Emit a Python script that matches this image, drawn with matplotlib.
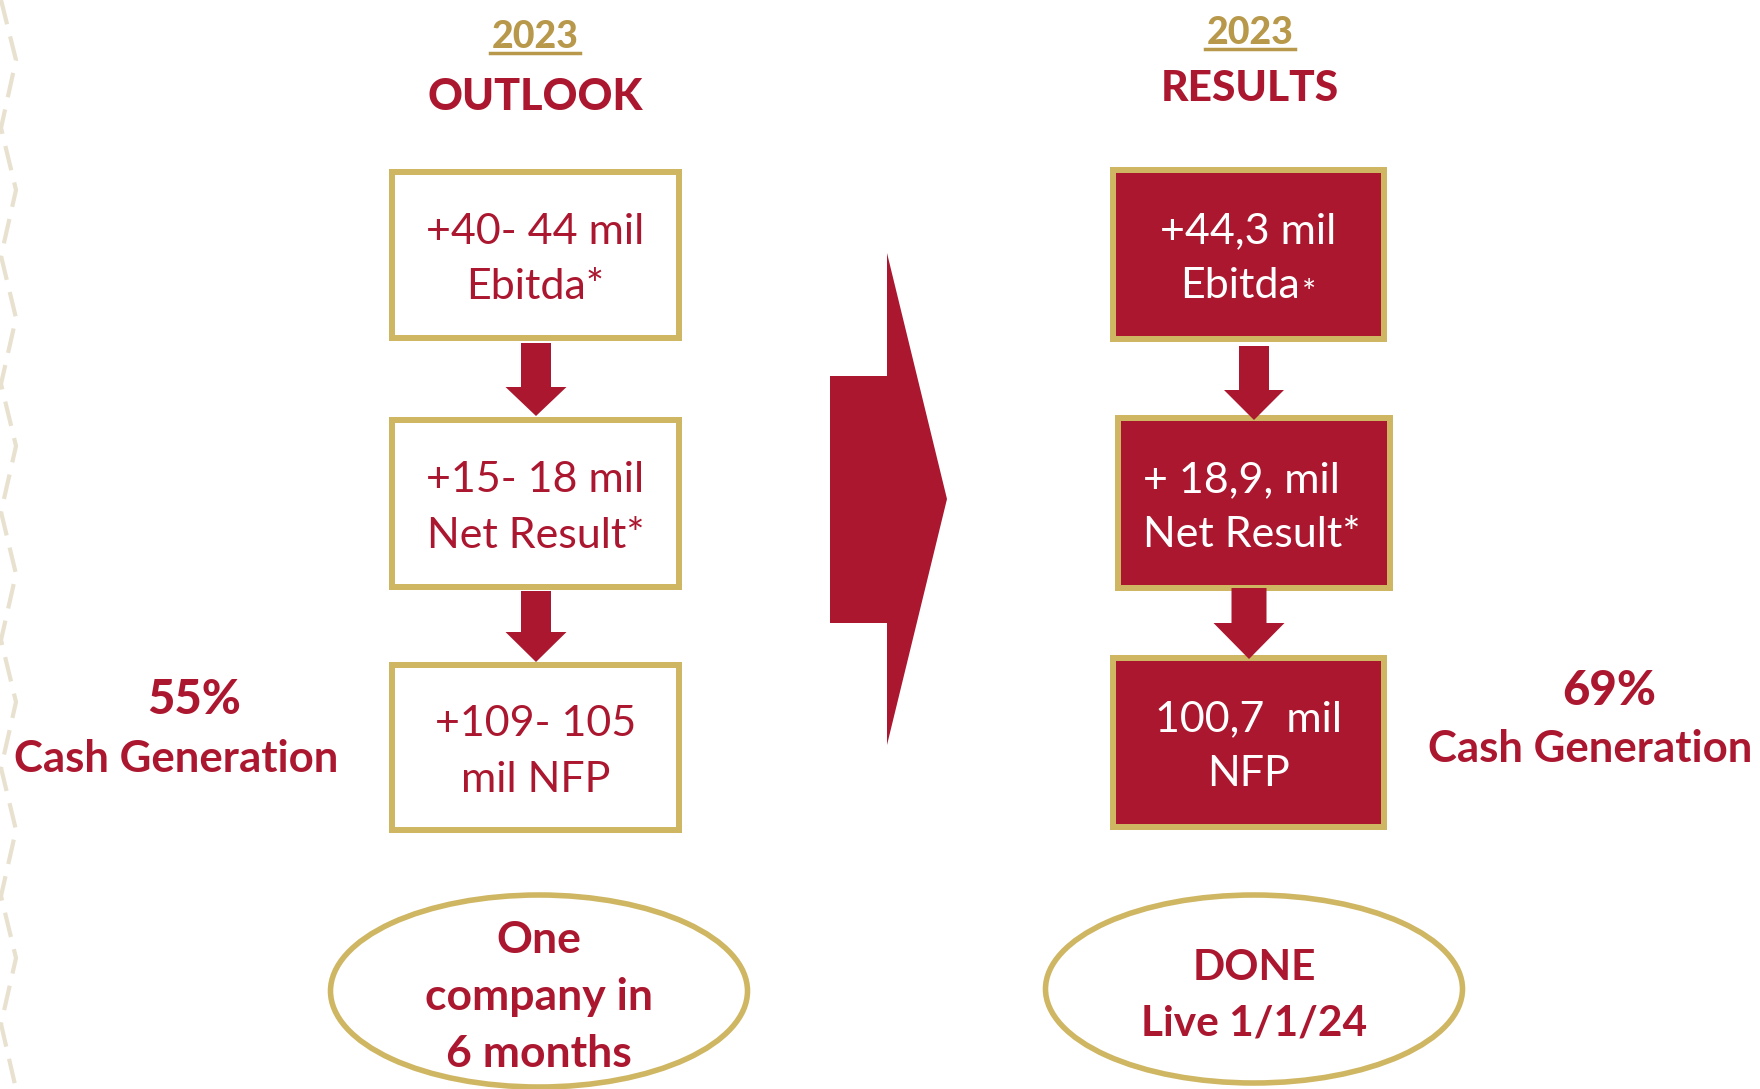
import matplotlib
matplotlib.use("Agg")
import matplotlib.pyplot as plt
from matplotlib.patches import Rectangle, Ellipse, Polygon
import numpy as np

# ---------------- data ----------------
header_year = ["2023", "2023"]
header_title = ["OUTLOOK", "RESULTS"]
outlook_lines = [["+40- 44 mil", "Ebitda*"],
                 ["+15- 18 mil", "Net Result*"],
                 ["+109- 105", "mil NFP"]]
results_lines = [["+44,3 mil", "Ebitda"],
                 ["+ 18,9, mil", "Net Result*"],
                 ["100,7  mil", "NFP"]]
cash_pct = ["55%", "69%"]
cash_label = ["Cash Generation", "Cash Generation"]
oval_lines = [["One", "company in", "6 months"],
              ["DONE", "Live 1/1/24"]]

# ---------------- style ----------------
RED = "#AC1730"
GOLD = "#CFB663"
GOLD_TXT = "#B8984A"
FONT = "Lato"

W, H = 1760, 1089
fig = plt.figure(figsize=(W / 100, H / 100), dpi=100)
ax = fig.add_axes([0, 0, 1, 1])
ax.set_xlim(0, W)
ax.set_ylim(H, 0)
ax.axis("off")

# left decorative zigzag
zy = [0, 60, 128, 190, 256, 318, 384, 446, 512, 574, 640, 702, 768, 830, 896, 958, 1024, 1089]
zx = [1 if i % 2 == 0 else 16 for i in range(len(zy))]
ax.plot(zx, zy, color="#E8E1CF", lw=3, dashes=(6, 3), solid_capstyle="round", zorder=0)

# headers
hdr = [(535, 34, 94, 31), (1250, 30, 85, 30.5)]
for (cx, yy, ty, fs), yr, tt in zip(hdr, header_year, header_title):
    ax.text(cx, yy + 14, yr, ha="center", va="baseline", fontsize=27,
            fontfamily=FONT, fontweight="black", color=GOLD_TXT)
    ax.plot([cx - 45, cx + 45], [yy + 19, yy + 19], color=GOLD_TXT, lw=2.5)
    ax.text(cx, ty + 16, tt, ha="center", va="baseline", fontsize=fs,
            fontfamily=FONT, fontweight="black", color=RED)

# boxes: (x0, y0, x1, y1)
left_boxes = [(389, 169, 682, 341), (389, 417, 682, 590), (389, 662, 682, 833)]
right_boxes = [(1110, 167, 1387, 342), (1115, 415, 1393, 591), (1110, 655, 1387, 830)]

def draw_box(b, filled):
    x0, y0, x1, y1 = b
    lw = 6
    ax.add_patch(Rectangle((x0 + lw / 2, y0 + lw / 2), x1 - x0 - lw, y1 - y0 - lw,
                           facecolor=RED if filled else "white", edgecolor=GOLD,
                           linewidth=lw * 0.72, joinstyle="miter", zorder=2))

def draw_down_arrow(cx, ytop, ybase, ytip, shaft_w, head_w):
    pts = [(cx - shaft_w / 2, ytop), (cx + shaft_w / 2, ytop), (cx + shaft_w / 2, ybase),
           (cx + head_w / 2, ybase), (cx, ytip), (cx - head_w / 2, ybase),
           (cx - shaft_w / 2, ybase)]
    ax.add_patch(Polygon(pts, closed=True, facecolor=RED, edgecolor="none", zorder=3))

for b in left_boxes:
    draw_box(b, False)
for b in right_boxes:
    draw_box(b, True)

draw_down_arrow(536, 343, 387, 416, 30, 61)
draw_down_arrow(536, 591, 632, 662, 30, 61)
draw_down_arrow(1254, 346, 390, 420, 30, 60)
draw_down_arrow(1249, 588, 623, 659, 35, 71)

# box texts
BOX_FS = 31
def box_text(b, lines, color, left=None):
    x0, y0, x1, y1 = b
    cy = (y0 + y1) / 2
    cx = (x0 + x1) / 2
    out = []
    for ln, off in zip(lines, [-11, 44]):
        if left is None:
            out.append(ax.text(cx, cy + off, ln, ha="center", va="baseline", fontsize=BOX_FS,
                               fontfamily=FONT, color=color, zorder=4))
        else:
            out.append(ax.text(left, cy + off, ln, ha="left", va="baseline", fontsize=BOX_FS,
                               fontfamily=FONT, color=color, zorder=4))
    return out

for b, lines in zip(left_boxes, outlook_lines):
    box_text(b, lines, RED)

r0 = box_text(right_boxes[0], results_lines[0], "white")
box_text(right_boxes[1], results_lines[1], "white", left=1143)
box_text(right_boxes[2], results_lines[2], "white")

# small asterisk after "Ebitda" on results box (sits low, near the baseline)
r0[1].set_x(1240)
fig.canvas.draw()
ren = fig.canvas.get_renderer()
bb = r0[1].get_window_extent(ren)
xr, _ = ax.transData.inverted().transform((bb.x1, bb.y0))
ax.text(xr + 2, 294, "*", ha="left", va="center", fontsize=24, fontfamily=FONT,
        color="white", zorder=4)

# big right arrow
big = [(830, 376), (887, 376), (887, 253), (947, 499), (887, 745), (887, 623), (830, 623)]
ax.add_patch(Polygon(big, closed=True, facecolor=RED, edgecolor="none", zorder=3))

# cash generation
cash_pos = [(194, 714, 176, 772), (1609, 705, 1590, 762)]
for (px, py, lx, ly), p, l in zip(cash_pos, cash_pct, cash_label):
    ax.text(px, py, p, ha="center", va="baseline", fontsize=34, fontfamily=FONT,
            fontweight="black", color=RED)
    ax.text(lx, ly, l, ha="center", va="baseline", fontsize=31.5, fontfamily=FONT,
            fontweight="bold", color=RED)

# ovals
ovals = [(539, 991, 417, 192), (1254, 989, 417, 188)]
oval_baselines = [[953, 1010, 1067], [980, 1035]]
oval_fs = [32, 30.5]
for (cx, cy, w, h), lines, bl, fs in zip(ovals, oval_lines, oval_baselines, oval_fs):
    ax.add_patch(Ellipse((cx, cy), w, h, facecolor="white", edgecolor=GOLD, linewidth=4,
                         zorder=2))
    for ln, yb in zip(lines, bl):
        ax.text(cx, yb, ln, ha="center", va="baseline", fontsize=fs, fontfamily=FONT,
                fontweight="bold", color=RED, zorder=4)

fig.savefig("out.png", dpi=100, facecolor="white")
